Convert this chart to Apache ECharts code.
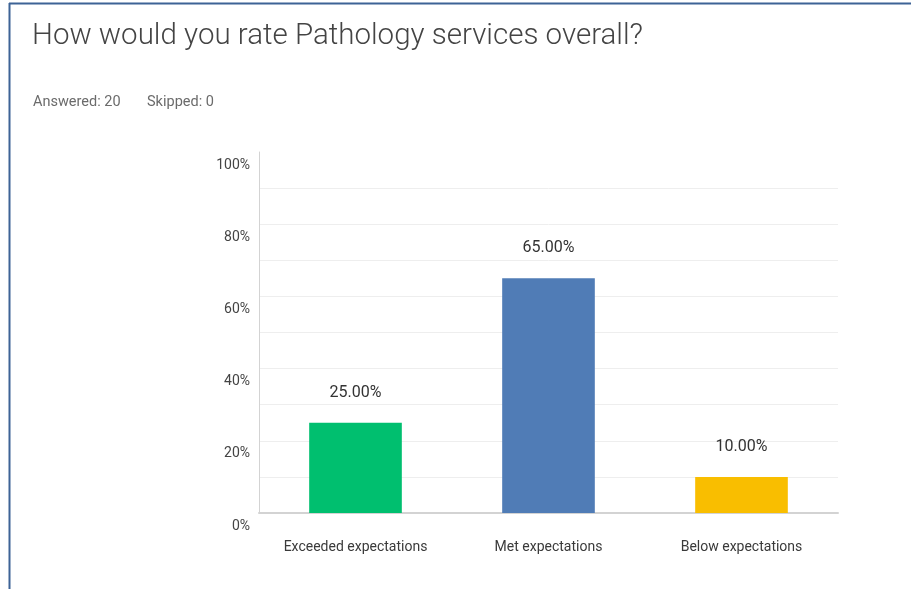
<!DOCTYPE html>
<html>
<head>
<meta charset="utf-8">
<script src="https://cdn.jsdelivr.net/npm/echarts@6/dist/echarts.min.js"></script>
<style>
  html, body { margin: 0; padding: 0; background: #fff; }
  #chart { width: 911px; height: 589px; }
</style>
</head>
<body>
<div id="chart"></div>
<script>
// Survey question and response counts
const questionTitle = 'How would you rate Pathology services overall?';
const answeredText = 'Answered: 20';
const skippedText = 'Skipped: 0';

const categories = ['Exceeded expectations', 'Met expectations', 'Below expectations'];
const percentages = [25, 65, 10];
const barColors = ['#00BF6F', '#507CB6', '#F9BE00'];
// y ticks every 10%, labelled every 20%
const yTickLabels = { 0: '0%', 20: '20%', 40: '40%', 60: '60%', 80: '80%', 100: '100%' };

const font = 'Roboto, sans-serif';

const chart = echarts.init(document.getElementById('chart'), null, { renderer: 'canvas' });

chart.setOption({
  animation: false,
  backgroundColor: '#ffffff',
  title: [
    {
      text: questionTitle,
      left: 27,
      top: 15,
      textStyle: { fontFamily: font, fontWeight: 300, fontSize: 29.5, color: '#444444', lineHeight: 34 }
    },
    {
      text: answeredText,
      left: 28,
      top: 88,
      textStyle: { fontFamily: font, fontWeight: 'normal', fontSize: 14.5, color: '#6b6b6b', lineHeight: 18 }
    },
    {
      text: skippedText,
      left: 142,
      top: 88,
      textStyle: { fontFamily: font, fontWeight: 'normal', fontSize: 14.5, color: '#6b6b6b', lineHeight: 18 }
    }
  ],
  grid: { left: 259, right: 73, top: 152, bottom: 76, containLabel: false },
  xAxis: {
    type: 'category',
    data: categories,
    axisLine: { show: true, lineStyle: { color: '#d3d3d3', width: 2 } },
    axisTick: { show: false },
    axisLabel: { interval: 0, margin: 27, fontFamily: font, fontSize: 14, color: '#3a3a3a' }
  },
  yAxis: {
    type: 'value',
    min: 0,
    max: 100,
    interval: 10,
    axisLine: { show: true, lineStyle: { color: '#d3d3d3', width: 1 } },
    axisTick: { show: false },
    splitLine: { show: true, showMaxLine: false, lineStyle: { color: '#eeeeee', width: 1 } },
    axisLabel: {
      margin: 9,
      fontFamily: font,
      fontSize: 14,
      color: '#444',
      verticalAlign: 'top',
      padding: [6, 0, 0, 0],
      formatter: v => yTickLabels[v] !== undefined ? yTickLabels[v] : ''
    }
  },
  series: [{
    type: 'bar',
    barWidth: '48%',
    data: percentages.map((v, i) => ({ value: v, itemStyle: { color: barColors[i] } })),
    label: {
      show: true,
      position: 'top',
      distance: 22,
      fontFamily: font,
      fontSize: 16,
      color: '#333',
      formatter: p => p.value.toFixed(2) + '%'
    }
  }],
  graphic: [
    // frame edges: left and top rule
    { type: 'line', silent: true, shape: { x1: 9.5, y1: 3, x2: 9.5, y2: 589 }, style: { stroke: '#3d6396', lineWidth: 2 } },
    { type: 'line', silent: true, shape: { x1: 9, y1: 3.5, x2: 911, y2: 3.5 }, style: { stroke: '#3d6396', lineWidth: 2 } }
  ]
});
</script>
</body>
</html>
